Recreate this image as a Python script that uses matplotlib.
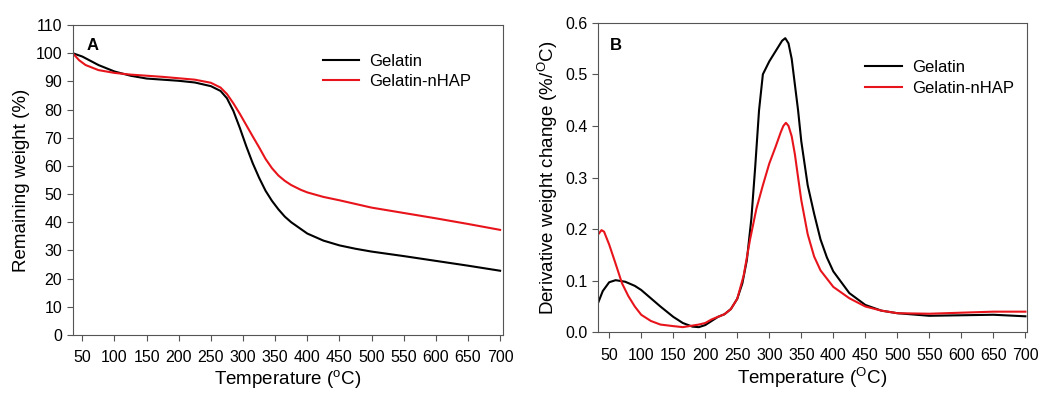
import numpy as np
import matplotlib.pyplot as plt

plt.rcParams['font.family'] = ['Liberation Sans', 'DejaVu Sans']
plt.rcParams['mathtext.fontset'] = 'custom'
plt.rcParams['mathtext.rm'] = 'Liberation Sans'

# TGA: remaining weight (%) vs temperature
tga_t_gel = [35, 50, 75, 100, 125, 150, 175, 200, 225, 250, 265, 275, 285, 295, 305,
             315, 325, 335, 345, 355, 365, 375, 390, 400, 425, 450, 475, 500, 550, 600,
             650, 700]
tga_gel = [100, 98.8, 95.8, 93.5, 92.0, 91.0, 90.6, 90.2, 89.6, 88.3, 86.6, 84.0, 79.5,
           73.5, 67.0, 61.0, 55.8, 51.2, 47.6, 44.6, 42.0, 40.0, 37.6, 36.0, 33.5, 31.8,
           30.6, 29.6, 28.0, 26.3, 24.6, 22.8]
tga_t_hap = [35, 45, 55, 75, 100, 125, 150, 175, 200, 225, 250, 265, 275, 285, 295,
             305, 315, 325, 335, 345, 355, 365, 375, 390, 400, 425, 450, 500, 550, 600,
             650, 700]
tga_hap = [100, 97.5, 95.8, 94.0, 93.0, 92.4, 92.0, 91.6, 91.1, 90.6, 89.5, 87.8, 85.5,
           82.2, 78.5, 74.5, 70.5, 66.6, 62.5, 59.2, 56.6, 54.7, 53.2, 51.5, 50.6, 49.0,
           47.8, 45.2, 43.3, 41.4, 39.4, 37.3]

# DTG: derivative weight change (%/oC) vs temperature
dtg_t_gel = [33, 40, 50, 60, 75, 90, 100, 115, 130, 150, 165, 180, 190, 200, 210, 220,
             230, 240, 250, 258, 265, 272, 278, 284, 290, 300, 310, 320, 325, 330, 335,
             340, 345, 350, 360, 370, 380, 390, 400, 425, 450, 475, 500, 550, 600, 650,
             700]
dtg_gel = [0.058, 0.08, 0.097, 0.101, 0.098, 0.09, 0.082, 0.066, 0.05, 0.03, 0.018,
           0.011, 0.010, 0.014, 0.022, 0.03, 0.035, 0.045, 0.065, 0.095, 0.14, 0.22, 0.32,
           0.43, 0.5, 0.525, 0.545, 0.565, 0.57, 0.56, 0.53, 0.48, 0.43, 0.37, 0.285,
           0.23, 0.18, 0.145, 0.118, 0.076, 0.053, 0.042, 0.037, 0.032, 0.033, 0.034,
           0.031]
dtg_t_hap = [33, 38, 42, 50, 60, 70, 80, 90, 100, 115, 130, 150, 165, 175, 190, 200,
             210, 220, 230, 240, 250, 260, 270, 280, 290, 300, 310, 318, 322, 326, 330,
             335, 340, 345, 350, 360, 370, 380, 400, 425, 450, 475, 500, 550, 600, 650,
             700]
dtg_hap = [0.19, 0.198, 0.195, 0.17, 0.133, 0.095, 0.07, 0.05, 0.034, 0.022, 0.015,
           0.012, 0.01, 0.012, 0.015, 0.018, 0.025, 0.03, 0.035, 0.045, 0.065, 0.11,
           0.18, 0.24, 0.285, 0.327, 0.36, 0.388, 0.4, 0.406, 0.4, 0.38, 0.345, 0.3,
           0.256, 0.19, 0.147, 0.12, 0.088, 0.066, 0.05, 0.042, 0.037, 0.036, 0.038,
           0.04, 0.04]

xticks = np.arange(50, 701, 50)

fig = plt.figure(figsize=(10.46, 3.94), dpi=100)
axA = fig.add_axes([72.7 / 1046, 59 / 394, 430 / 1046, 310 / 394])
axB = fig.add_axes([598.3 / 1046, 61.7 / 394, 428.4 / 1046, 309.6 / 394])

axA.plot(tga_t_gel, tga_gel, color='black', lw=1.5, label='Gelatin')
axA.plot(tga_t_hap, tga_hap, color='#e8141b', lw=1.5, label='Gelatin-nHAP')
axA.set_xlim(35, 704)
axA.set_ylim(0, 110)
axA.set_yticks(np.arange(0, 111, 10))
axA.set_ylabel('Remaining weight (%)', fontsize=13.5)
axA.text(0.033, 0.919, 'A', transform=axA.transAxes, fontsize=12, fontweight='bold')

axB.plot(dtg_t_gel, dtg_gel, color='black', lw=1.5, label='Gelatin')
axB.plot(dtg_t_hap, dtg_hap, color='#e8141b', lw=1.5, label='Gelatin-nHAP')
axB.set_xlim(33, 702)
axB.set_ylim(0, 0.6)
axB.set_yticks(np.arange(0, 0.61, 0.1))
axB.set_yticklabels(['0.0', '0.1', '0.2', '0.3', '0.4', '0.5', '0.6'])
axB.set_ylabel('Derivative weight change (%/$^{\\rm O}$C)', fontsize=13.5)
axB.text(0.027, 0.912, 'B', transform=axB.transAxes, fontsize=12, fontweight='bold')

for ax, sup, anchor in ((axA, 'o', (0.962, 0.956)), (axB, 'O', (1.005, 0.927))):
    ax.set_xticks(xticks)
    ax.set_xlabel('Temperature ($^{\\rm %s}$C)' % sup, fontsize=13.5, labelpad=2)
    ax.tick_params(labelsize=11.5, direction='out', length=4, color='#555555')
    ax.tick_params(axis='x', pad=7)
    for s in ax.spines.values():
        s.set_color('#555555')
    ax.legend(loc='upper right', bbox_to_anchor=anchor, frameon=False,
              fontsize=12, handlelength=2.2, handletextpad=0.6, labelspacing=0.33)

fig.savefig('out.png', dpi=100)
